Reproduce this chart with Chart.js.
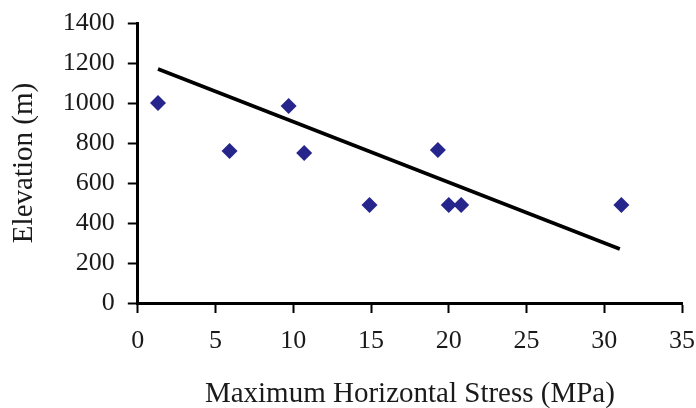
<!DOCTYPE html>
<html>
<head>
<meta charset="utf-8">
<script src="https://cdn.jsdelivr.net/npm/chart.js@4/dist/chart.umd.min.js"></script>
<style>
  html, body { margin: 0; padding: 0; background: #fff; }
  #wrap { width: 696px; height: 408px; position: relative; }
</style>
</head>
<body>
<div id="wrap"><canvas id="chart"></canvas></div>
<script>
// measured points: stress (MPa) vs elevation (m)
const stressValues = [1.3, 5.9, 9.7, 10.7, 14.9, 19.3, 20.0, 20.8, 31.1];
const elevationValues = [1000, 760, 985, 750, 490, 765, 490, 490, 490];

// fitted trend line end points
const trendStress = [1.3, 31.0];
const trendElevation = [1170, 270];

const xTicks = [0, 5, 10, 15, 20, 25, 30, 35];
const yTicks = [0, 200, 400, 600, 800, 1000, 1200, 1400];

const xTitle = 'Maximum Horizontal Stress (MPa)';
const yTitle = 'Elevation (m)';

const textColor = '#1a1a1a';
const serif = "'Liberation Serif', 'Times New Roman', serif";

function axis(title, ticks, titlePadding, fixPadding) {
    return {
        type: 'linear',
        min: ticks[0],
        max: ticks[ticks.length - 1],
        border: { display: true, color: '#000', width: 3 },
        grid: {
            display: true,
            drawOnChartArea: false,
            drawTicks: true,
            tickLength: 10,
            tickWidth: 2,
            tickColor: '#000',
            color: '#000'
        },
        afterBuildTicks: scale => {
            scale.ticks = ticks.map(v => ({ value: v }));
        },
        // chart.js adds the tick padding to the edge overflow, trim it back
        afterFit: fixPadding,
        ticks: {
            color: textColor,
            font: { family: serif, size: 26 },
            padding: 13,
            maxRotation: 0,
            callback: v => String(v) // no thousands separator
        },
        title: {
            display: true,
            text: title,
            color: textColor,
            font: { family: serif, size: 29 },
            padding: titlePadding
        }
    };
}

const ctx = document.getElementById('chart').getContext('2d');
new Chart(ctx, {
    type: 'scatter',
    data: {
        datasets: [
            {
                label: 'Measured',
                data: stressValues.map((x, i) => ({ x, y: elevationValues[i] })),
                pointStyle: 'rectRot',
                pointRadius: 8,
                pointBorderWidth: 0,
                backgroundColor: '#25258c',
                borderColor: '#25258c',
                clip: false
            },
            {
                label: 'Trend',
                type: 'line',
                data: trendStress.map((x, i) => ({ x, y: trendElevation[i] })),
                borderColor: '#000',
                borderWidth: 3.5,
                pointRadius: 0,
                fill: false,
                tension: 0
            }
        ]
    },
    options: {
        responsive: true,
        maintainAspectRatio: false,
        animation: false,
        layout: { padding: 0 },
        plugins: {
            legend: { display: false },
            tooltip: { enabled: false }
        },
        scales: {
            x: axis(xTitle, xTicks, { top: 7, bottom: -4 }, s => {
                s.paddingRight = 14;
                s.paddingLeft = 0;
            }),
            y: axis(yTitle, yTicks, { top: 7, bottom: 8 }, s => {
                s.paddingTop = 23;
                s.paddingBottom = 0;
            })
        }
    }
});
</script>
</body>
</html>
